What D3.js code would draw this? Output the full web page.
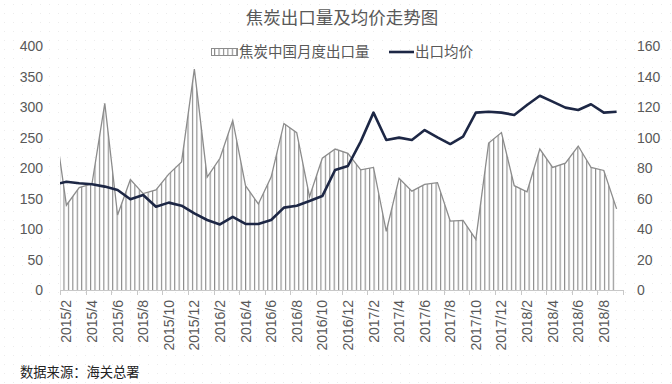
<!DOCTYPE html>
<html lang="zh">
<head>
    <meta charset="UTF-8">
    <title>焦炭出口量及均价走势图</title>
    <style>
        body { margin: 0; background: #fff; }
        text { font-family: "Liberation Sans", Arial, sans-serif; }
        .cjk { font-family: "Noto Sans CJK SC", sans-serif; }
    </style>
</head>
<body>

<script src="https://d3js.org/d3.v7.min.js"></script>
<script>
    // 2015/1 is only partly visible at the left edge of the plot
    var months = ['2015/1','2015/2','2015/3','2015/4','2015/5','2015/6','2015/7','2015/8','2015/9','2015/10','2015/11','2015/12',
        '2016/1','2016/2','2016/3','2016/4','2016/5','2016/6','2016/7','2016/8','2016/9','2016/10','2016/11','2016/12',
        '2017/1','2017/2','2017/3','2017/4','2017/5','2017/6','2017/7','2017/8','2017/9','2017/10','2017/11','2017/12',
        '2018/1','2018/2','2018/3','2018/4','2018/5','2018/6','2018/7','2018/8','2018/9'];

    var volume = [287, 139, 168, 174, 306, 123, 181, 158, 164, 190, 210, 362,
        185, 216, 278, 171, 141, 185, 273, 258, 153, 216, 231, 224,
        197, 201, 96, 183, 162, 173, 176, 113, 114, 83, 241, 258,
        171, 161, 231, 201, 208, 236, 201, 196, 133];

    var price = [69, 71, 70, 69.3, 67.8, 65.6, 59.5, 62.3, 54.6, 57.3, 55.3, 50.3,
        45.9, 43, 48, 43.3, 43.3, 45.9, 54, 55.3, 58.4, 61.6, 78.7, 81.3,
        97.3, 116.3, 98.4, 99.9, 98.4, 104.9, 100.1, 95.7, 100.6, 116.3, 116.9, 116.3,
        114.8, 121.3, 127.4, 123.5, 119.6, 118, 121.8, 116.3, 116.9];

    var leftTicks = [0, 50, 100, 150, 200, 250, 300, 350, 400];
    var rightTicks = [0, 20, 40, 60, 80, 100, 120, 140, 160];
    var labelMonths = months.filter(function(d, i) { return i % 2 === 1; });

    var W = 672, H = 384;
    var plot = {left: 60, right: 623, top: 46, bottom: 290};

    var svg = d3.select('body').append('svg')
        .attr('width', W)
        .attr('height', H);

    var defs = svg.append('defs');
    var dots = defs.append('pattern')
        .attr('id', 'dots')
        .attr('patternUnits', 'userSpaceOnUse')
        .attr('width', 9).attr('height', 9);
    dots.append('rect').attr('x', 4).attr('y', 4).attr('width', 1).attr('height', 1).attr('fill', '#ececec');

    var hatch = defs.append('pattern')
        .attr('id', 'hatch')
        .attr('patternUnits', 'userSpaceOnUse')
        .attr('x', plot.left - 1)
        .attr('width', 4.43).attr('height', 10);
    hatch.append('rect').attr('width', 4.43).attr('height', 10).attr('fill', '#fff');
    hatch.append('line')
        .attr('x1', 0.6).attr('x2', 0.6).attr('y1', 0).attr('y2', 10)
        .attr('stroke', '#7d7d7d').attr('stroke-width', 1);

    defs.append('clipPath').attr('id', 'clip')
      .append('rect')
        .attr('x', plot.left).attr('y', 0)
        .attr('width', plot.right - plot.left).attr('height', plot.bottom + 1);

    svg.append('rect').attr('width', W).attr('height', H).attr('fill', 'url(#dots)');

    // month index -> x, first visible month (2015/2) is index 1
    var x = d3.scaleLinear()
        .domain([0.5, months.length - 0.5])
        .range([plot.left, plot.right]);
    var yL = d3.scaleLinear().domain([0, 400]).range([plot.bottom, plot.top]);
    var yR = d3.scaleLinear().domain([0, 160]).range([plot.bottom, plot.top]);

    var g = svg.append('g').attr('clip-path', 'url(#clip)');

    var area = d3.area()
        .x(function(d, i) { return x(i); })
        .y0(yL(0))
        .y1(function(d) { return yL(d); });
    var outline = d3.line()
        .x(function(d, i) { return x(i); })
        .y(function(d) { return yL(d); });
    var priceLine = d3.line()
        .x(function(d, i) { return x(i); })
        .y(function(d) { return yR(d); });

    g.append('path')
        .datum(volume)
        .attr('d', area)
        .attr('fill', 'url(#hatch)');
    g.append('path')
        .datum(volume)
        .attr('d', outline)
        .attr('fill', 'none')
        .attr('stroke', '#8c8c8c')
        .attr('stroke-width', 1.3);
    g.append('path')
        .datum(price)
        .attr('d', priceLine)
        .attr('fill', 'none')
        .attr('stroke', '#1d2745')
        .attr('stroke-width', 2.6)
        .attr('stroke-linejoin', 'round');

    // x axis
    svg.append('line')
        .attr('x1', plot.left).attr('x2', plot.right)
        .attr('y1', plot.bottom + 0.5).attr('y2', plot.bottom + 0.5)
        .attr('stroke', '#c8c8c8');
    svg.append('g').selectAll('line')
        .data(d3.range(0.5, months.length, 2))
      .enter().append('line')
        .attr('x1', function(d) { return Math.round(x(d)) + 0.5; })
        .attr('x2', function(d) { return Math.round(x(d)) + 0.5; })
        .attr('y1', plot.bottom).attr('y2', plot.bottom + 5)
        .attr('stroke', '#c8c8c8');

    svg.append('g').selectAll('text')
        .data(labelMonths)
      .enter().append('text')
        .attr('transform', function(d) {
            return 'translate(' + x(months.indexOf(d)) + ',' + 300 + ') rotate(-90)'; })
        .attr('text-anchor', 'end')
        .attr('dy', '0.36em')
        .attr('font-size', 14)
        .attr('fill', '#595959')
        .text(function(d) { return d; });

    // y axes
    svg.append('g').selectAll('text')
        .data(leftTicks)
      .enter().append('text')
        .attr('x', 43)
        .attr('y', function(d) { return yL(d); })
        .attr('dy', '0.36em')
        .attr('text-anchor', 'end')
        .attr('font-size', 14)
        .attr('fill', '#595959')
        .text(function(d) { return d; });

    svg.append('g').selectAll('text')
        .data(rightTicks)
      .enter().append('text')
        .attr('x', 637)
        .attr('y', function(d) { return yR(d); })
        .attr('dy', '0.36em')
        .attr('font-size', 14)
        .attr('fill', '#595959')
        .text(function(d) { return d; });

    // title
    svg.append('text')
        .attr('class', 'cjk')
        .attr('x', 342).attr('y', 24)
        .attr('text-anchor', 'middle')
        .attr('font-size', 17.5)
        .attr('fill', '#595959')
        .text('焦炭出口量及均价走势图');

    // legend
    var lg = svg.append('g');
    lg.append('rect')
        .attr('x', 211.5).attr('y', 48.5)
        .attr('width', 26).attr('height', 7)
        .attr('fill', 'url(#hatch)')
        .attr('stroke', '#8c8c8c');
    lg.append('text')
        .attr('class', 'cjk')
        .attr('x', 239).attr('y', 57)
        .attr('font-size', 14.5)
        .attr('fill', '#595959')
        .text('焦炭中国月度出口量');
    lg.append('line')
        .attr('x1', 389).attr('x2', 414)
        .attr('y1', 52).attr('y2', 52)
        .attr('stroke', '#1d2745')
        .attr('stroke-width', 2.6);
    lg.append('text')
        .attr('class', 'cjk')
        .attr('x', 415).attr('y', 57)
        .attr('font-size', 14.5)
        .attr('fill', '#595959')
        .text('出口均价');

    svg.append('text')
        .attr('class', 'cjk')
        .attr('x', 20).attr('y', 377)
        .attr('font-size', 13.3)
        .attr('fill', '#222')
        .text('数据来源：海关总署');
</script>
</body>
</html>
